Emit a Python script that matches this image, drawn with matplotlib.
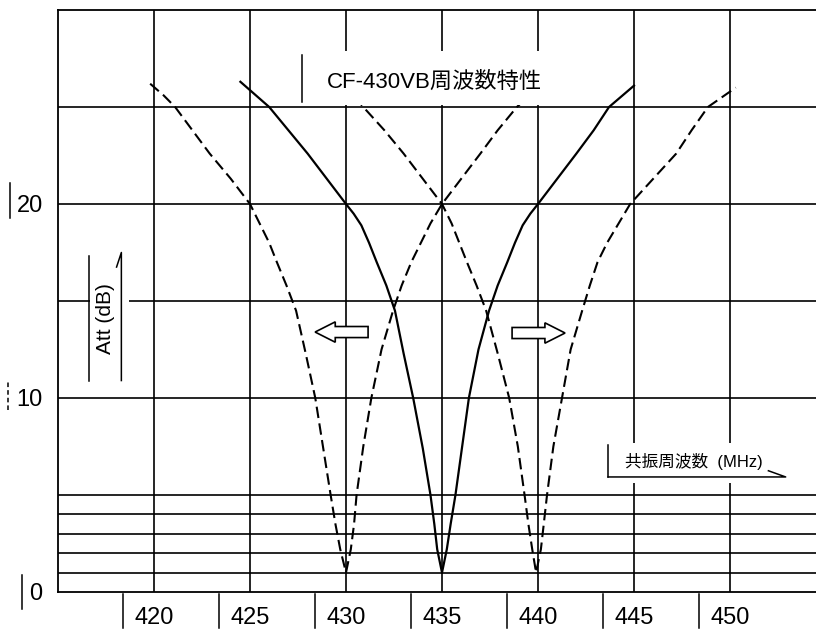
import matplotlib
matplotlib.use("Agg")
from matplotlib import pyplot as plt
from matplotlib import font_manager
from matplotlib.patches import Rectangle, FancyArrow
from matplotlib.transforms import blended_transform_factory

# solid curve, CF-430VB centred on 435 MHz
FREQ_SOLID = [424.5, 426.0, 427.0, 428.0, 429.0, 430.0, 430.4, 430.8, 431.2, 431.6,
              432.1, 432.55, 433.0, 433.5, 434.0, 434.4, 434.6, 434.75, 435.0,
              435.25, 435.45, 435.7, 436.05, 436.4, 436.9, 437.45, 437.9, 438.4,
              438.8, 439.2, 439.6, 440.0, 441.0, 442.0, 442.9, 443.7, 445.0]
ATT_SOLID = [26.3, 25.0, 23.8, 22.6, 21.3, 20.0, 19.5, 18.9, 18.0, 17.0,
             15.8, 14.5, 12.3, 10.0, 7.4, 5.0, 3.5, 2.2, 1.0,
             2.2, 3.5, 5.0, 7.5, 10.0, 12.5, 14.5, 15.8, 17.0,
             18.0, 18.9, 19.5, 20.0, 21.3, 22.6, 23.8, 25.0, 26.1]

# dashed curve shifted down to 430 MHz
FREQ_DASH_430 = [419.8, 420.5, 421.1, 422.0, 422.9, 424.0, 425.0, 425.5, 426.0, 426.4,
                 426.9, 427.4, 427.9, 428.4, 428.8, 429.2, 429.45, 429.7, 430.0,
                 430.25, 430.42, 430.55, 430.9, 431.32, 431.85, 432.45, 432.9, 433.4,
                 433.9, 434.4, 435.0, 436.0, 437.0, 437.9, 438.9, 440.2]
ATT_DASH_430 = [26.2, 25.6, 25.0, 23.8, 22.6, 21.3, 20.0, 19.0, 18.0, 17.0,
                15.8, 14.5, 12.3, 10.0, 7.5, 5.0, 3.5, 2.2, 1.0,
                2.2, 3.5, 5.0, 7.5, 10.0, 12.5, 14.5, 15.8, 17.0,
                18.0, 19.0, 20.0, 21.3, 22.6, 23.8, 25.0, 26.2]

# dashed curve shifted up to 440 MHz
FREQ_DASH_440 = [429.9, 430.9, 432.0, 433.0, 434.0, 435.0, 435.5, 435.9, 436.3,
                 436.8, 437.3, 437.9, 438.5, 438.95, 439.3, 439.5, 439.7, 439.9,
                 440.15, 440.3, 440.47, 440.8, 441.25, 441.7, 442.3, 442.7, 443.1,
                 443.6, 444.2, 444.8, 446.0, 447.2, 448.0, 448.85, 450.3]
ATT_DASH_440 = [26.2, 25.0, 23.8, 22.6, 21.3, 20.0, 19.0, 18.0, 17.0,
                15.8, 14.5, 12.3, 10.0, 7.5, 5.0, 3.5, 2.2, 1.0,
                2.2, 3.5, 5.0, 7.5, 10.0, 12.5, 14.5, 15.8, 17.0,
                18.0, 19.0, 20.0, 21.3, 22.6, 23.8, 25.0, 26.0]

X_TICKS = [420, 425, 430, 435, 440, 445, 450]
Y_TICKS = [0, 10, 20]
V_GRID = [420, 425, 430, 435, 440, 445, 450]
H_GRID = [1, 2, 3, 4, 5, 10, 15, 20, 25]

TITLE = "CF-430VB周波数特性"
XLABEL = "共振周波数  (MHz)"
YLABEL = "Att (dB)"


def pick_font():
    names = {f.name for f in font_manager.fontManager.ttflist}
    for name in ("Liberation Sans Narrow", "DejaVu Sans Condensed", "Liberation Sans"):
        if name in names:
            return name
    return "DejaVu Sans"


def draw_chart(out_file: str):
    num_font = pick_font()
    cjk = [num_font, "Noto Sans CJK JP", "DejaVu Sans"]

    fig = plt.figure(figsize=(8.16, 6.29), dpi=100)
    ax = fig.add_axes([58 / 816, 37 / 629, 758 / 816, 582 / 629])
    ax.set_xlim(415, 415 + 758 / 19.2)
    ax.set_ylim(0, 30)

    for side in ("left", "top", "bottom"):
        ax.spines[side].set_linewidth(1.3)
        ax.spines[side].set_color("black")
    ax.spines["right"].set_visible(False)

    ax.vlines(V_GRID, 0, 30, colors="black", linewidth=1.2, zorder=1)
    ax.hlines(H_GRID, 415, 455, colors="black", linewidth=1.2, zorder=1)

    ax.plot(FREQ_SOLID, ATT_SOLID, color="black", linewidth=1.6, zorder=2)
    ax.plot(FREQ_DASH_430, ATT_DASH_430, color="black", linewidth=1.5,
            dashes=(5.5, 2.6), zorder=2)
    ax.plot(FREQ_DASH_440, ATT_DASH_440, color="black", linewidth=1.5,
            dashes=(5.5, 2.6), zorder=2)

    # ticks: numbers only, with the hand-drawn bars next to them
    ax.set_xticks(X_TICKS)
    ax.set_xticklabels([str(t) for t in X_TICKS], fontsize=17, family=num_font)
    ax.set_yticks(Y_TICKS)
    ax.set_yticklabels([str(t) for t in Y_TICKS], fontsize=17, family=num_font)
    ax.tick_params(axis="x", length=0, pad=11)
    ax.tick_params(axis="y", length=0, pad=11)

    bx = blended_transform_factory(ax.transData, ax.transAxes)
    for t in X_TICKS:
        ax.plot([t - 1.6, t - 1.6], [-0.003, -0.062], color="black", lw=1.1,
                transform=bx, clip_on=False)
    by = blended_transform_factory(ax.transAxes, ax.transData)
    ax.plot([-0.063, -0.063], [19.3, 21.1], color="black", lw=1.1, transform=by, clip_on=False)
    ax.plot([-0.066, -0.066], [9.4, 10.9], color="black", lw=1.1, ls=(0, (3, 2)),
            transform=by, clip_on=False)
    ax.plot([-0.0475, -0.0475], [-0.9, 0.9], color="black", lw=1.1, transform=by, clip_on=False)

    # title box
    ax.add_patch(Rectangle((427.75, 25.12), 12.7, 2.75, facecolor="white",
                           edgecolor="none", zorder=4))
    ax.plot([427.7, 427.7], [25.25, 27.7], color="black", lw=1.1, zorder=5)
    ax.text(434.6, 26.3, TITLE, ha="center", va="center", fontsize=16,
            family=cjk, zorder=6)

    # y label box
    ax.add_patch(Rectangle((416.65, 10.8), 2.05, 6.9, facecolor="white",
                           edgecolor="none", zorder=4))
    ax.plot([416.6, 416.6], [10.9, 17.3], color="black", lw=1.1, zorder=5)
    ax.plot([418.3, 418.3, 418.05], [10.9, 17.5, 16.75], color="black", lw=1.1, zorder=5)
    ax.text(417.45, 14.1, YLABEL, rotation=90, ha="center", va="center",
            fontsize=15, family=num_font, zorder=6)

    # x label box
    ax.add_patch(Rectangle((443.7, 5.6), 9.5, 2.1, facecolor="white",
                           edgecolor="none", zorder=4))
    ax.plot([443.65, 443.65], [5.93, 7.6], color="black", lw=1.1, zorder=5)
    ax.plot([443.65, 452.9, 452.0], [5.93, 5.93, 6.25], color="black", lw=1.1, zorder=5)
    ax.text(448.1, 6.75, XLABEL, ha="center", va="center", fontsize=12,
            family=cjk, zorder=6)

    # hollow shift arrows
    for x0, dx, y0 in ((431.15, -2.76, 13.4), (438.65, 2.76, 13.35)):
        ax.add_patch(FancyArrow(x0, y0, dx, 0, width=0.57, head_width=1.05,
                                head_length=1.05, length_includes_head=True,
                                facecolor="white", edgecolor="black", lw=1.2, zorder=5))

    fig.savefig(out_file, dpi=100, facecolor="white")


def main():
    draw_chart("out.png")


if __name__ == "__main__":
    main()
